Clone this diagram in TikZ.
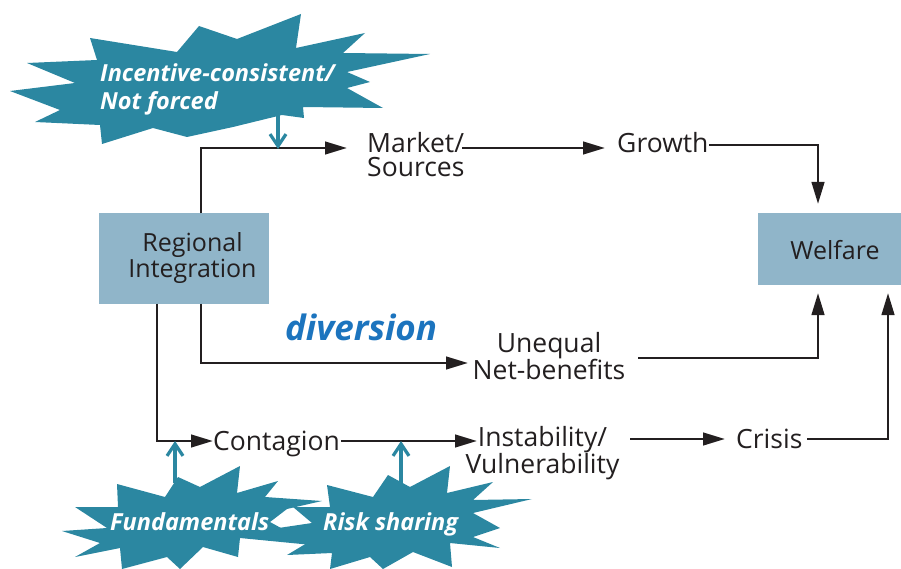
\documentclass[tikz,border=0pt]{standalone}
\usepackage{fontspec}
\setmainfont{Open Sans}
\usetikzlibrary{arrows.meta}
\definecolor{burstc}{HTML}{2B87A1}
\definecolor{boxc}{HTML}{90B5C9}
\definecolor{divc}{HTML}{1C74BE}
\definecolor{inkc}{HTML}{231F20}
\tikzset{
  lbl/.style={inner sep=0pt, text=inkc, font=\fontsize{26.5}{24}\selectfont},
  boxnode/.style={fill=boxc, inner sep=0pt},
  boxtxt/.style={inner sep=0pt, text=inkc, font=\fontsize{25}{23}\selectfont, align=center},
  burst/.style={fill=burstc, draw=none},
  bursttxt/.style={inner sep=0pt, text=white, font=\fontsize{23.5}{28}\selectfont\bfseries\itshape},
  arr/.style={draw=inkc, line width=2.8pt, -{Triangle[length=22pt,width=12.5pt]}},
  tarr/.style={draw=burstc, line width=3.2pt, -{Straight Barb[length=12pt,width=16pt,line width=3.2pt]}}
}
\begin{document}
\begin{tikzpicture}[x=1pt,y=-1pt]
\useasboundingbox (0,0) rectangle (901,569);

% starbursts
\fill[burst] (10,91) -- (75,83) -- (27,63) -- (97,60) -- (90,38) -- (177,52) -- (199,26) -- (237,39) -- (301,14) -- (296,48) -- (365,33) -- (343,53) -- (430,54) -- (347,72) -- (370,82) -- (347,88) -- (383,108) -- (303,107) -- (304,118) -- (282,115) -- (233,127) -- (187,137) -- (153,128) -- (102,144) -- (100,125) -- (35,122) -- (60,110) -- cycle;
\fill[burst] (117,484) -- (165,497) -- (178,477) -- (200,487) -- (240,466) -- (237,493) -- (278,481) -- (265,497) -- (322,501) -- (287,509) -- (270,522) -- (312,545) -- (240,538) -- (238,557) -- (203,547) -- (180,569) -- (167,557) -- (122,569) -- (120,548) -- (75,557) -- (100,543) -- (62,531) -- (107,528) -- (75,507) -- (118,507) -- cycle;
\fill[burst] (327,485) -- (373,497) -- (388,475) -- (410,487) -- (450,466) -- (447,493) -- (493,482) -- (473,500) -- (532,499) -- (473,513) -- (500,528) -- (473,537) -- (500,548) -- (450,543) -- (452,567) -- (413,552) -- (383,569) -- (370,557) -- (330,569) -- (332,553) -- (287,555) -- (307,543) -- (265,530) -- (312,523) -- (293,507) -- (330,507) -- cycle;

\node[bursttxt, anchor=north west, align=left] (inc) at (100,63) {Incentive-consistent/\\Not forced};
\node[bursttxt, anchor=base west] (fund) at (110,530) {Fundamentals};
\node[bursttxt, anchor=base west] (risk) at (323,530) {Risk sharing};

% boxes
\node[boxnode, minimum width=170pt, minimum height=90pt] (ri) at (184,258.5) {};
\node[boxtxt] (ritxt) at (192.5,258) {Regional\\Integration};
\node[boxnode, minimum width=143pt, minimum height=72pt] (wel) at (829.5,249) {};
\node[boxtxt, anchor=base] (weltxt) at (835,259) {Welfare};

% labels
\node[lbl, anchor=west, align=left] (mkt) at (367,155) {Market/\\Sources};
\node[lbl, anchor=base west] (gro) at (617,153) {Growth};
\node[lbl, align=center] (uneq) at (549,356) {Unequal\\Net-benefits};
\node[lbl, anchor=base west] (cont) at (213,450) {Contagion};
\node[lbl, align=center] (inst) at (542.5,453) {Instability/\\Vulnerability};
\node[lbl, anchor=base west] (cri) at (736,448) {Crisis};
\node[inner sep=0pt, anchor=base west, text=divc, font=\fontsize{35}{35}\selectfont\bfseries\itshape] (div) at (285,340) {diversion};

% junction coordinates
\coordinate (a1) at (201,148);
\coordinate (a1e) at (347,148);
\coordinate (a2s) at (462,148);
\coordinate (a2e) at (605,148);
\coordinate (a3s) at (709,145);
\coordinate (a3) at (818,145);
\coordinate (a3e) at (818,204);
\coordinate (b1) at (201,363);
\coordinate (b1e) at (468,363);
\coordinate (b2s) at (638,358);
\coordinate (b2) at (818,358);
\coordinate (b2e) at (818,293);
\coordinate (c1) at (157,441);
\coordinate (c1e) at (213,441);
\coordinate (c2s) at (341,441);
\coordinate (c2e) at (477,441);
\coordinate (c3s) at (630,439);
\coordinate (c3e) at (725,439);
\coordinate (c4s) at (807,439);
\coordinate (c4) at (888,439);
\coordinate (c4e) at (888,293);
\coordinate (t1s) at (278,115);
\coordinate (t1e) at (278,149);
\coordinate (t2s) at (175,483);
\coordinate (t2e) at (175,441);
\coordinate (t3s) at (401,483);
\coordinate (t3e) at (401,441);

% connectors
\draw[arr] (ri.north -| a1) -- (a1) -- (a1e);
\draw[arr] (a2s) -- (a2e);
\draw[arr] (a3s) -- (a3) -- (a3e);
\draw[arr] (ri.south -| b1) -- (b1) -- (b1e);
\draw[arr] (b2s) -- (b2) -- (b2e);
\draw[arr] (ri.south -| c1) -- (c1) -- (c1e);
\draw[arr] (c2s) -- (c2e);
\draw[arr] (c3s) -- (c3e);
\draw[arr] (c4s) -- (c4) -- (c4e);

\draw[tarr] (t1s) -- (t1e);
\draw[tarr] (t2s) -- (t2e);
\draw[tarr] (t3s) -- (t3e);
\end{tikzpicture}
\end{document}
